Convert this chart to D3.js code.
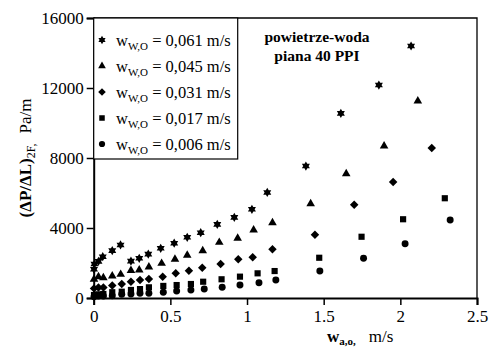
<!DOCTYPE html>
<html>
<head>
<meta charset="utf-8">
<script src="https://d3js.org/d3.v7.min.js"></script>
<style>
  body { margin: 0; background: #fff; }
  svg { display: block; font-family: "Liberation Serif", "Times New Roman", serif; }
</style>
</head>
<body>
<svg width="490" height="349"></svg>
<script>
// series data (x: w_a,o in m/s, y: Pa/m)
var starX = [0.002, 0.005, 0.031, 0.059, 0.121, 0.175, 0.243, 0.297, 0.356, 0.437, 0.525, 0.610, 0.698, 0.806, 0.917, 1.032, 1.132, 1.384, 1.612, 1.860, 2.070];
var starY = [1640, 1940, 2090, 2360, 2710, 3030, 2110, 2270, 2510, 2840, 3130, 3470, 3730, 4210, 4610, 5070, 6030, 7540, 10550, 12170, 14400];

var triX = [0.002, 0.031, 0.063, 0.121, 0.176, 0.243, 0.297, 0.360, 0.443, 0.530, 0.610, 0.711, 0.819, 0.939, 1.043, 1.166, 1.415, 1.647, 1.894, 2.114];
var triY = [1070, 1220, 1160, 1260, 1350, 1570, 1600, 1770, 1980, 2210, 2440, 2700, 3180, 3410, 3890, 4300, 5390, 7100, 8690, 11260];

var diaX = [0.002, 0.031, 0.063, 0.121, 0.183, 0.243, 0.302, 0.360, 0.450, 0.535, 0.621, 0.708, 0.828, 0.943, 1.037, 1.166, 1.443, 1.699, 1.953, 2.205];
var diaY = [550, 600, 600, 710, 800, 930, 1030, 1090, 1220, 1410, 1560, 1730, 1940, 2210, 2330, 2790, 3620, 5330, 6630, 8570];

var sqX = [0.002, 0.030, 0.063, 0.121, 0.183, 0.243, 0.302, 0.360, 0.454, 0.541, 0.634, 0.714, 0.834, 0.954, 1.069, 1.180, 1.471, 1.747, 2.018, 2.290];
var sqY = [170, 210, 230, 330, 360, 460, 510, 610, 690, 740, 800, 930, 1070, 1220, 1410, 1540, 2300, 3500, 4500, 5700];

var cirX = [0.002, 0.030, 0.063, 0.121, 0.183, 0.243, 0.302, 0.360, 0.454, 0.541, 0.634, 0.721, 0.838, 0.954, 1.078, 1.188, 1.475, 1.760, 2.031, 2.325];
var cirY = [70, 110, 110, 130, 210, 230, 270, 270, 330, 400, 460, 510, 610, 740, 870, 1030, 1540, 2270, 3100, 4460];

var legendVals = ["0,061", "0,045", "0,031", "0,017", "0,006"];
var xTicks = [0, 0.5, 1, 1.5, 2, 2.5];
var yTicks = [0, 4000, 8000, 12000, 16000];

var svg = d3.select("svg"),
    width = +svg.attr("width"),
    height = +svg.attr("height");

var margin = {left: 93.7, right: 13, top: 18, bottom: 51};

var x = d3.scaleLinear().domain([0, 2.5]).range([margin.left, width - margin.right]);
var y = d3.scaleLinear().domain([0, 16000]).range([height - margin.bottom, margin.top]);

// six pointed star made of two triangles
var hexagram = {
  draw: function(ctx, size) {
    var r = Math.sqrt(size) * 0.75;
    for (var k = 0; k < 2; k++) {
      for (var i = 0; i < 3; i++) {
        var a = (k * 60 + i * 120 - 90) * Math.PI / 180;
        if (i == 0) ctx.moveTo(r * Math.cos(a), r * Math.sin(a));
        else ctx.lineTo(r * Math.cos(a), r * Math.sin(a));
      }
      ctx.closePath();
    }
  }
};

// square turned 45 degrees (d3's diamond is too narrow)
var rhomb = {
  draw: function(ctx, size) {
    var r = Math.sqrt(size / 2);
    ctx.moveTo(0, -r);
    ctx.lineTo(r, 0);
    ctx.lineTo(0, r);
    ctx.lineTo(-r, 0);
    ctx.closePath();
  }
};

var series = [
  {xs: starX, ys: starY, type: hexagram, size: 38},
  {xs: triX, ys: triY, type: d3.symbolTriangle, size: 32},
  {xs: diaX, ys: diaY, type: rhomb, size: 36},
  {xs: sqX, ys: sqY, type: d3.symbolSquare, size: 38},
  {xs: cirX, ys: cirY, type: d3.symbolCircle, size: 38}
];

// frame top/right
svg.append("path")
  .attr("d", "M" + x(0) + "," + y(16000) + "H" + x(2.5) + "V" + y(0))
  .attr("fill", "none")
  .attr("stroke", "#000")
  .attr("stroke-width", 1.3);

// minor + major ticks
var gx = svg.append("g").attr("transform", "translate(0," + y(0) + ")");
gx.call(d3.axisBottom(x).tickValues(d3.range(0.25, 2.5, 0.5)).tickSize(4).tickFormat(""));
gx.call(d3.axisBottom(x).tickValues(xTicks).tickSize(7).tickPadding(5).tickFormat(function(d) { return d; }));

var gy = svg.append("g").attr("transform", "translate(" + x(0) + ",0)");
gy.call(d3.axisLeft(y).tickValues(d3.range(2000, 16000, 4000)).tickSize(4).tickFormat(""));
gy.call(d3.axisLeft(y).tickValues(yTicks).tickSize(7).tickPadding(3).tickFormat(function(d) { return d; }));

svg.selectAll(".domain").attr("stroke-width", 2);
svg.selectAll(".tick line").attr("stroke-width", 1.5);
svg.selectAll(".tick text")
  .attr("font-family", "'Liberation Serif', 'Times New Roman', serif")
  .attr("font-size", 17)
  .attr("fill", "#000");

// points
series.forEach(function(s) {
  svg.append("g")
    .selectAll("path")
    .data(s.xs.map(function(v, i) { return [v, s.ys[i]]; }))
    .enter().append("path")
    .attr("transform", function(d) { return "translate(" + x(d[0]) + "," + y(d[1]) + ")"; })
    .attr("d", d3.symbol().type(s.type).size(s.size))
    .attr("fill", "#000");
});

// legend
var legend = svg.append("g");
legend.append("rect")
  .attr("x", x(0)).attr("y", y(16000))
  .attr("width", 144).attr("height", 141)
  .attr("fill", "#fff")
  .attr("stroke", "#000")
  .attr("stroke-width", 1.2);

series.forEach(function(s, i) {
  var cy = 40 + i * 26;
  legend.append("path")
    .attr("transform", "translate(102," + cy + ")")
    .attr("d", d3.symbol().type(s.type).size(s.size * 0.8))
    .attr("fill", "#000");
  var t = legend.append("text")
    .attr("x", 116).attr("y", cy + 6)
    .attr("font-size", 16.5);
  t.append("tspan").text("w");
  t.append("tspan").attr("font-size", 11).attr("dy", 4).text("W,O");
  t.append("tspan").attr("dy", -4).text(" = " + legendVals[i] + " m/s");
});

// annotation
var note = svg.append("text")
  .attr("text-anchor", "middle")
  .attr("font-weight", "bold")
  .attr("font-size", 15.5);
note.append("tspan").attr("x", 317).attr("y", 42).text("powietrze-woda");
note.append("tspan").attr("x", 317).attr("y", 61).text("piana 40 PPI");

// axis titles
var yl = svg.append("text")
  .attr("transform", "translate(31,158) rotate(-90)")
  .attr("text-anchor", "middle")
  .attr("font-size", 17);
yl.append("tspan").attr("font-weight", "bold").text("(ΔP/ΔL)");
yl.append("tspan").attr("font-size", 12).attr("dy", 4).text("2F,");
yl.append("tspan").attr("dy", -4).attr("dx", 10).text("Pa/m");

var xl = svg.append("text")
  .attr("x", 327).attr("y", 342)
  .attr("font-size", 17);
xl.append("tspan").attr("font-weight", "bold").text("w");
xl.append("tspan").attr("font-weight", "bold").attr("font-size", 11).attr("dy", 3).text("a,o,");
xl.append("tspan").attr("dy", -3).attr("dx", 13).text("m/s");
</script>
</body>
</html>
